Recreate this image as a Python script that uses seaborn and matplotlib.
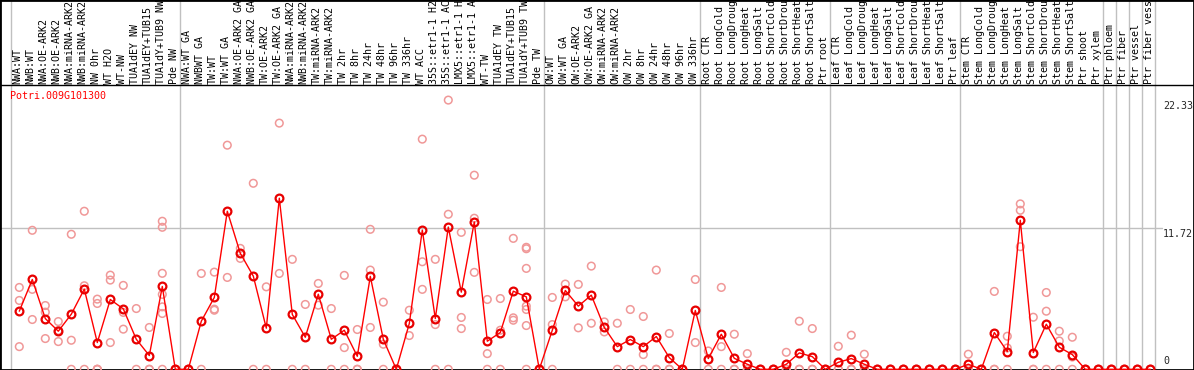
import numpy as np
import pandas as pd
import matplotlib
matplotlib.use("Agg")
import matplotlib.pyplot as plt
import seaborn as sns

# ---------------- data ----------------
gene_name = "Potri.009G101300"

sample_labels = [
    "NWA:WT", "NWB:WT", "NWA:OE-ARK2", "NWB:OE-ARK2", "NWA:miRNA-ARK2", "NWB:miRNA-ARK2",
    "NW 0hr", "WT H2O", "WT-NW", "TUA1dEY NW", "TUA1dEY+TUB15", "TUA1dY+TUB9 NW", "Pde NW",
    "NWA:WT GA", "NWBWT GA", "TW:WT", "TW:WT GA", "NWA:OE-ARK2 GA", "NWB:OE-ARK2 GA",
    "TW:OE-ARK2", "TW:OE-ARK2 GA", "NWA:miRNA-ARK2", "NWB:miRNA-ARK2", "TW:miRNA-ARK2",
    "TW:miRNA-ARK2", "TW 2hr", "TW 8hr", "TW 24hr", "TW 48hr", "TW 96hr", "TW 336hr",
    "WT ACC", "35S::etr1-1 H2", "35S::etr1-1 AC", "LMX5::etr1-1 H", "LMX5::etr1-1 A",
    "WT-TW", "TUA1dEY TW", "TUA1dEY+TUB15", "TUA1dY+TUB9 TW", "Pde TW",
    "OW:WT", "OW:WT GA", "OW:OE-ARK2", "OW:OE-ARK2 GA", "OW:miRNA-ARK2", "OW:miRNA-ARK2",
    "OW 2hr", "OW 8hr", "OW 24hr", "OW 48hr", "OW 96hr", "OW 336hr",
    "Root CTR", "Root LongCold", "Root LongDroug", "Root LongHeat", "Root LongSalt",
    "Root ShortCold", "Root ShortDrou", "Root ShortHeat", "Root ShortSalt", "Ptr root",
    "Leaf CTR", "Leaf LongCold", "Leaf LongDroug", "Leaf LongHeat", "Leaf LongSalt",
    "Leaf ShortCold", "Leaf ShortDrou", "Leaf ShortHeat", "Leaf ShortSalt", "Ptr leaf",
    "Stem CTR", "Stem LongCold", "Stem LongDroug", "Stem LongHeat", "Stem LongSalt",
    "Stem ShortCold", "Stem ShortDrou", "Stem ShortHeat", "Stem ShortSalt", "Ptr shoot",
    "Ptr xylem", "Ptr phloem", "Ptr fiber", "Ptr vessel", "Ptr fiber vess",
]

group_sizes = [13, 28, 12, 10, 10, 11, 1, 1, 1, 1]

mean_values = [
    4.82, 7.45, 4.21, 3.16, 4.57, 6.65, 2.22, 5.79, 5.01, 2.49, 1.14, 6.87, 0,
    0, 3.99, 5.96, 13.11, 9.62, 7.73, 3.41, 14.19, 4.55, 2.66, 6.23, 2.49, 3.24, 1.08,
    7.71, 2.49, 0, 3.80, 11.55, 4.21, 11.80, 6.40, 12.22, 2.33, 3.05, 6.48, 6.01, 0,
    3.24, 6.54, 5.24, 6.15, 3.47, 1.88, 2.47, 1.88, 2.72, 0.97, 0, 4.88,
    0.89, 2.91, 0.91, 0.42, 0, 0, 0.42, 1.36, 1.05, 0,
    0.58, 0.89, 0.42, 0, 0, 0, 0, 0, 0, 0,
    0.42, 0, 3.05, 1.47, 12.36, 1.39, 3.74, 1.83, 1.22, 0, 0,
    0, 0, 0, 0,
]

replicate_values = [
    [6.79, 5.71, 1.88], [11.53, 6.63, 4.13], [5.29, 4.74, 2.55], [3.96, 2.30, 3.22],
    [11.20, 2.41, 0], [13.11, 6.93, 0], [5.82, 5.46, 0, 0, 0], [7.81, 7.40, 2.22],
    [6.96, 3.33, 4.72], [5.04, 0], [3.47, 0, 0], [12.28, 11.78, 7.96, 6.21, 5.18, 4.63, 0],
    [0, 0],
    [0, 0], [7.95, 0], [8.06, 4.99, 4.90], [18.59, 7.62], [10.03, 9.20], [15.43, 0],
    [6.84, 0], [20.42, 7.95], [9.12, 0], [5.38, 0], [7.12, 5.32], [5.04, 0],
    [7.79, 1.80, 0], [3.30, 0, 0], [11.61, 8.23, 3.47], [5.57, 2.08, 0], [0, 0],
    [4.90, 2.80], [19.09, 8.92, 6.63], [9.12, 3.71, 0], [22.33, 12.86, 0],
    [11.36, 4.30, 3.38], [16.10, 12.53, 8.04], [5.79, 1.30, 0], [5.87, 3.24, 0],
    [10.86, 4.27, 4.07], [10.12, 10.0, 8.37, 5.24, 4.96, 3.63, 0], [0, 0],
    [5.96, 3.71, 0], [7.07, 6.01], [7.04, 3.44], [8.56, 3.82], [3.93, 3.10], [3.82, 0],
    [4.96, 0], [4.38, 1.22, 0], [8.23, 0, 0], [2.97, 0, 0], [0, 0], [7.45, 2.22],
    [1.52, 0], [6.79, 1.88, 0], [2.91, 0, 0], [1.30, 0, 0], [0, 0], [0, 0],
    [1.41, 0, 0], [3.99, 0, 0], [3.38, 0, 0], [0, 0],
    [1.91, 0, 0], [2.83, 0, 0], [1.25, 0, 0], [0, 0], [0, 0], [0, 0], [0, 0], [0, 0],
    [0, 0], [0, 0],
    [1.25, 0, 0], [0, 0], [6.46, 0, 0], [2.74, 1.77, 0], [13.72, 13.19, 10.17],
    [4.32, 0, 0], [6.37, 4.82, 0], [3.16, 2.35, 0], [2.66, 1.02, 0], [0, 0], [0, 0],
    [0, 0], [0, 0], [0, 0], [0, 0],
]

y_tick_values = [22.33, 11.72, 0]
y_tick_labels = ["22.33", "11.72", "0"]

# ---------------- frames ----------------
df_mean = pd.DataFrame({"idx": np.arange(len(mean_values)), "value": mean_values})
rep_idx, rep_val = [], []
for i, reps in enumerate(replicate_values):
    for v in reps:
        rep_idx.append(i)
        rep_val.append(v)
df_rep = pd.DataFrame({"idx": rep_idx, "value": rep_val})

# ---------------- layout ----------------
sns.set_style("white")
plt.rcParams["font.family"] = ["DejaVu Sans Mono", "DejaVu Sans"]
FS = 7.2

W, H = 1194, 370
fig = plt.figure(figsize=(W / 100, H / 100), dpi=100)
ax = fig.add_axes([0, 0, 1, 1])

X0, DX = 19.3, 13.0       # pixel x of first sample, pixel spacing
Y0, DY = 369.3, 12.056    # pixel y of value 0, pixels per unit
ax.set_xlim(-X0 / DX, (W - X0) / DX)
ax.set_ylim(-(H - Y0) / DY, Y0 / DY)

def py(p):  # pixel row -> data y
    return (Y0 - p) / DY

def px(p):  # pixel col -> data x
    return (p - X0) / DX

# group separators
bounds = np.concatenate([[0], np.cumsum(group_sizes)])
for b in bounds:
    ax.axvline(b - 0.62, color="#c0c0c0", lw=1, zorder=1)

# header separator
ax.axhline(py(85), color="black", lw=1, zorder=2)
# gridline at middle tick
ax.axhline(y_tick_values[1], xmin=0, xmax=1162 / W, color="#c0c0c0", lw=1, zorder=1)

# replicates
sns.scatterplot(data=df_rep, x="idx", y="value", ax=ax, marker="o", s=30,
                facecolor="none", edgecolor="#f09898", linewidth=1.1, zorder=3,
                legend=False)
# means
sns.lineplot(data=df_mean, x="idx", y="value", ax=ax, color="red", lw=1,
             marker="o", markersize=5.6, markerfacecolor="none",
             markeredgecolor="#e80000", markeredgewidth=1.6, zorder=4,
             legend=False)

# sample labels
for i, lab in enumerate(sample_labels):
    ax.text(i - 0.12, py(83.5), lab, rotation=90, ha="center", va="bottom",
            fontsize=FS, color="black", zorder=5)

# gene name
ax.text(px(9.5), py(91), gene_name, color="red", ha="left", va="top", fontsize=FS)

# y labels
xl = px(1163)
ax.text(xl, y_tick_values[0] - 0.1, y_tick_labels[0], ha="left", va="top", fontsize=FS)
ax.text(xl, y_tick_values[1] - 0.05, y_tick_labels[1], ha="left", va="top", fontsize=FS)
ax.text(xl, py(366), y_tick_labels[2], ha="left", va="bottom", fontsize=FS)

ax.set_xticks([])
ax.set_yticks([])
ax.set_xlabel("")
ax.set_ylabel("")
for s in ax.spines.values():
    s.set_visible(True)
    s.set_color("black")
    s.set_linewidth(2)

fig.savefig("out.png", dpi=100)
